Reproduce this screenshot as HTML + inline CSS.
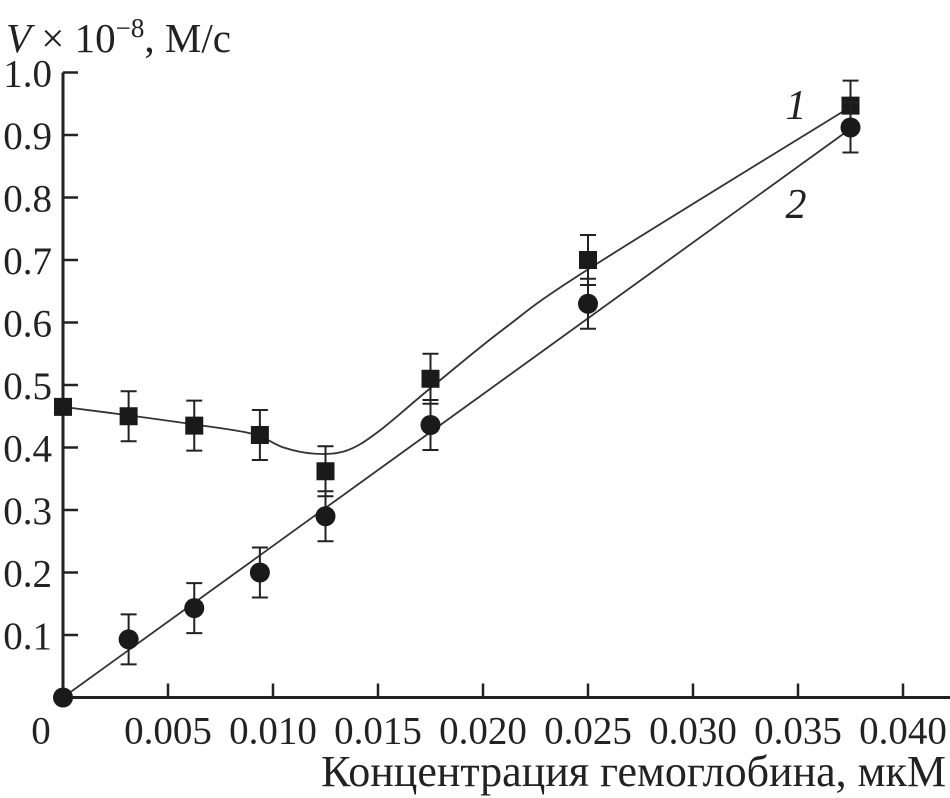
<!DOCTYPE html>
<html><head><meta charset="utf-8"><style>
html,body{margin:0;padding:0;background:#fff;}
svg{display:block;font-family:"Liberation Serif","DejaVu Serif",serif;}
</style></head><body>
<svg id="chart" width="950" height="798" viewBox="0 0 950 798" xmlns="http://www.w3.org/2000/svg">
<text x="6" y="52" font-size="41" fill="#222"><tspan font-style="italic">V</tspan> × 10<tspan dy="-15" font-size="27">−8</tspan><tspan dy="15">, М/с</tspan></text>
<text x="946" y="786" font-size="44" fill="#222" text-anchor="end">Концентрация гемоглобина, мкМ</text>
<g id="axes"></g>
<g id="marks"></g>
<text x="796" y="119" font-size="42" font-style="italic" fill="#222" text-anchor="middle">1</text>
<text x="796" y="218" font-size="42" font-style="italic" fill="#222" text-anchor="middle">2</text>
</svg>
<script>
const xData = [0, 0.003125, 0.00625, 0.009375, 0.0125, 0.0175, 0.025, 0.0375];
const series1 = [0.465, 0.45, 0.435, 0.42, 0.362, 0.51, 0.70, 0.947];
const series2 = [0.0, 0.093, 0.143, 0.2, 0.29, 0.436, 0.63, 0.912];
const errors = [0.04, 0.04, 0.04, 0.04, 0.04, 0.04, 0.04, 0.04];
const fit1X = [0, 0.003, 0.006, 0.009, 0.0105, 0.012, 0.0135, 0.015, 0.0175, 0.021, 0.025, 0.0375];
const fit1Y = [0.465, 0.452, 0.438, 0.422, 0.40, 0.39, 0.395, 0.425, 0.495, 0.59, 0.685, 0.945];
const fit2X = [0, 0.0375];
const fit2Y = [0, 0.91];
const xTicks = [0.005, 0.010, 0.015, 0.020, 0.025, 0.030, 0.035, 0.040];
const xTickLabels = ["0.005","0.010","0.015","0.020","0.025","0.030","0.035","0.040"];
const yTicks = [0.1,0.2,0.3,0.4,0.5,0.6,0.7,0.8,0.9,1.0];
const yTickLabels = ["0.1","0.2","0.3","0.4","0.5","0.6","0.7","0.8","0.9","1.0"];

const X0=63, XS=21000, Y0=697.5, YS=625;
const sx=v=>X0+v*XS, sy=v=>Y0-v*YS;
const NS="http://www.w3.org/2000/svg";
function mk(tag,attrs,parent){const e=document.createElementNS(NS,tag);for(const k in attrs)e.setAttribute(k,attrs[k]);parent.appendChild(e);return e;}
const axes=document.getElementById('axes'), marks=document.getElementById('marks');
let e=mk('line',{x1:X0,y1:sy(1.0),x2:X0,y2:Y0+1.5,stroke:'#222','stroke-width':3},axes);


e=mk('line',{x1:X0-1.5,y1:Y0,x2:950,y2:Y0,stroke:'#222','stroke-width':3},axes);


e=mk('text',{x:41,y:Y0+46,'font-size':39,fill:'#222','text-anchor':'middle'},axes);e.textContent='0';


xTicks.forEach((t,i)=>{
 let l=mk('line',{x1:sx(t),y1:Y0,x2:sx(t),y2:Y0-14,stroke:'#222','stroke-width':2.5},axes);
 
 
 let tx=mk('text',{x:sx(t),y:Y0+46,'font-size':39,fill:'#222','text-anchor':'middle'},axes);tx.textContent=xTickLabels[i];
 
 
});
yTicks.forEach((t,i)=>{
 let l=mk('line',{x1:X0,y1:sy(t),x2:X0+15,y2:sy(t),stroke:'#222','stroke-width':2.5},axes);
 
 
 let tx=mk('text',{x:52,y:sy(t)+14,'font-size':39,fill:'#222','text-anchor':'end'},axes);tx.textContent=yTickLabels[i];
 
 
});
function smooth(xs,ys){const p=xs.map((x,i)=>[sx(x),sy(ys[i])]);let d='M'+p[0][0]+','+p[0][1];
 for(let i=0;i<p.length-1;i++){const p0=p[i-1]||p[i],p1=p[i],p2=p[i+1],p3=p[i+2]||p2;
  d+=` C${p1[0]+(p2[0]-p0[0])/6},${p1[1]+(p2[1]-p0[1])/6} ${p2[0]-(p3[0]-p1[0])/6},${p2[1]-(p3[1]-p1[1])/6} ${p2[0]},${p2[1]}`;}return d;}
e=mk('path',{d:smooth(fit1X,fit1Y),fill:'none',stroke:'#333','stroke-width':1.8},marks);


e=mk('path',{d:smooth(fit2X,fit2Y),fill:'none',stroke:'#333','stroke-width':1.8},marks);


function errbar(x,y,er){const X=sx(x);
 let g=mk('path',{d:`M${X},${sy(y+er)}V${sy(y-er)}M${X-8},${sy(y+er)}H${X+8}M${X-8},${sy(y-er)}H${X+8}`,stroke:'#222','stroke-width':2,fill:'none'},marks);
 
 }
xData.forEach((x,i)=>{
 if(i>0)errbar(x,series1[i],errors[i]);
 let r=mk('rect',{x:sx(x)-9,y:sy(series1[i])-9,width:18,height:18,fill:'#1a1a1a'},marks);
 
 
});
xData.forEach((x,i)=>{
 if(i>0)errbar(x,series2[i],errors[i]);
 let c=mk('circle',{cx:sx(x),cy:sy(series2[i]),r:10,fill:'#1a1a1a'},marks);
 
 
});
</script>
</body></html>
